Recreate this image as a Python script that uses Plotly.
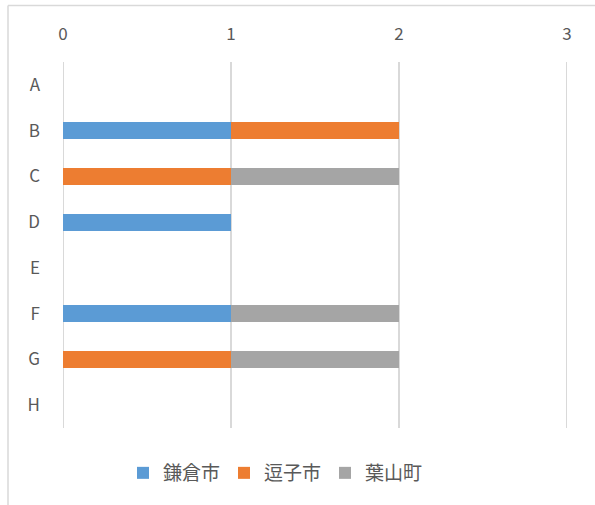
import plotly.graph_objects as go

categories = ["A", "B", "C", "D", "E", "F", "G", "H"]
kamakura = [0, 1, 0, 1, 0, 1, 0, 0]
zushi = [0, 1, 1, 0, 0, 0, 1, 0]
hayama = [0, 0, 1, 0, 0, 1, 1, 0]
series_names = ["鎌倉市", "逗子市", "葉山町"]
colors = ["#5B9BD5", "#ED7D31", "#A5A5A5"]
x_ticks = [0, 1, 2, 3]

fig = go.Figure()
for name, vals, col in zip(series_names, [kamakura, zushi, hayama], colors):
    fig.add_trace(go.Bar(
        y=categories, x=vals, name=name, orientation="h",
        marker=dict(color=col, line=dict(width=0)),
    ))

L, R, T, B = 63, 28, 62, 77
W, H = 595, 505
pw, ph = W - L - R, H - T - B

def px(x):
    return (x - L) / pw

def py(y):
    return (H - B - y) / ph

grid_col = "#D9D9D9"
grid_w = 2
shapes = [
    dict(type="line", xref="paper", yref="paper",
         x0=px(8), x1=px(W), y0=py(5.5), y1=py(5.5),
         line=dict(color=grid_col, width=1.5)),
    dict(type="line", xref="paper", yref="paper",
         x0=px(8), x1=px(8), y0=py(5.5), y1=py(H),
         line=dict(color=grid_col, width=1.5)),
]
# edge gridlines (plotly omits grid lines at the range ends)
for v in (x_ticks[0], x_ticks[-1]):
    shapes.append(dict(type="line", xref="x", yref="paper", layer="below",
                       x0=v, x1=v, y0=0, y1=1,
                       line=dict(color=grid_col, width=grid_w)))

fig.update_layout(
    width=W, height=H,
    barmode="stack", bargap=0.63,
    margin=dict(l=L, r=R, t=T, b=B, pad=0),
    paper_bgcolor="white", plot_bgcolor="white",
    font=dict(family="Noto Sans CJK JP", size=17, color="#595959"),
    xaxis=dict(
        side="top", range=[0, 3], tickvals=x_ticks,
        showgrid=True, gridcolor=grid_col, gridwidth=grid_w,
        zeroline=False, showline=False, ticks="",
        ticklabelstandoff=18,
        tickfont=dict(size=17, color="#595959"),
    ),
    yaxis=dict(
        autorange="reversed", showgrid=False, zeroline=False,
        showline=False, ticks="", ticklabelstandoff=22,
        tickfont=dict(size=17, color="#595959"),
    ),
    showlegend=True,
    legend=dict(
        orientation="h", x=px(123), xanchor="left", y=py(473), yanchor="middle",
        font=dict(size=19, color="#595959"),
        traceorder="normal", entrywidth=56,
    ),
    shapes=shapes,
)

fig.write_html(
    "out.html",
    config={"displayModeBar": False},
    post_script="document.body.style.margin='0';",
)
